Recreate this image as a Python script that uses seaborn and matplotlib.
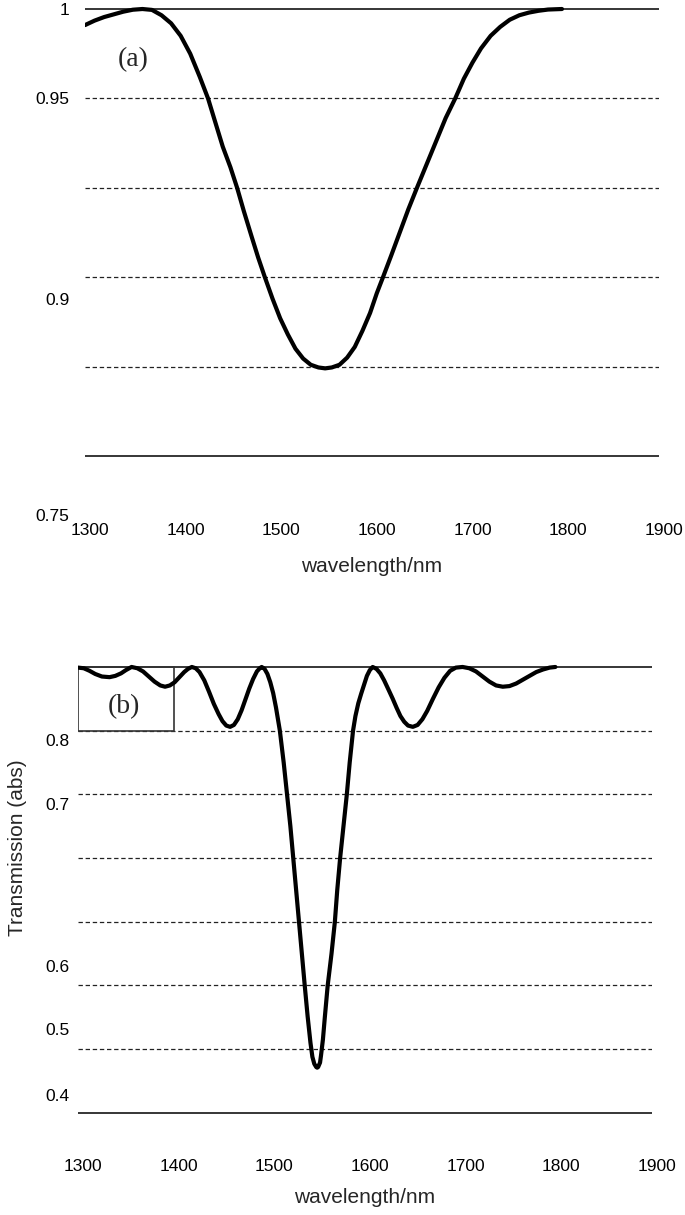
import matplotlib
matplotlib.use("Agg")
import matplotlib.pyplot as plt
from matplotlib.patches import Rectangle
from matplotlib.transforms import ScaledTranslation
import pandas as pd
import seaborn as sns

# curve (a): weak dip
wl_a = [1300, 1310, 1320, 1330, 1340, 1350, 1360, 1370, 1380, 1390, 1400, 1410,
        1420, 1428.6, 1436, 1444, 1452, 1459, 1466, 1474, 1481, 1488, 1496, 1504,
        1512, 1520, 1528, 1536, 1544, 1551, 1558, 1566, 1574, 1582, 1590, 1598,
        1605, 1611.5, 1620, 1629, 1638, 1647, 1657, 1667, 1677, 1687, 1696, 1705,
        1714, 1724, 1734, 1744, 1754, 1764, 1774, 1784, 1798.6]
tr_a = [0.991, 0.9935, 0.9955, 0.997, 0.9985, 0.9996, 1.0, 0.9995, 0.9965, 0.992, 0.985, 0.975,
        0.962, 0.950, 0.937, 0.923, 0.9115, 0.900, 0.887, 0.873, 0.861, 0.850, 0.838, 0.827,
        0.818, 0.810, 0.8045, 0.801, 0.7995, 0.799, 0.7995, 0.801, 0.805, 0.811, 0.820, 0.830,
        0.841, 0.850, 0.862, 0.875, 0.888, 0.900, 0.913, 0.926, 0.939, 0.950, 0.961, 0.970,
        0.978, 0.985, 0.990, 0.994, 0.9965, 0.998, 0.999, 0.9997, 1.0]

# curve (b): deep dip with side lobes
wl_b = [1300, 1306, 1312, 1318, 1325, 1333, 1339, 1345, 1350, 1356,
        1362, 1368, 1374, 1380, 1386, 1391, 1396, 1401, 1406, 1411, 1415, 1419,
        1423, 1427, 1432, 1437, 1442, 1447, 1451, 1455, 1459, 1463, 1467, 1471,
        1475, 1479, 1483, 1487, 1490, 1492,
        1495, 1498, 1501, 1504, 1507, 1509, 1511, 1515, 1518.5, 1522, 1525, 1528,
        1531, 1534, 1537, 1540, 1543, 1545, 1547, 1549, 1550, 1551, 1553, 1554,
        1556, 1558, 1561, 1565, 1568.5, 1571, 1574, 1577.5, 1581, 1584, 1587.5,
        1590, 1593, 1596, 1599, 1602, 1605, 1608,
        1612, 1616, 1620, 1625, 1629, 1633, 1637, 1641, 1645, 1650, 1655, 1660,
        1665, 1671, 1677, 1683, 1689, 1695, 1702,
        1709, 1716, 1723, 1730, 1737, 1744, 1751, 1758, 1765, 1772, 1779, 1786,
        1793, 1799]
tr_b = [0.899, 0.898, 0.894, 0.889, 0.885, 0.884, 0.886, 0.890, 0.895, 0.900,
        0.898, 0.893, 0.885, 0.877, 0.871, 0.869, 0.871, 0.876, 0.884, 0.892, 0.897, 0.900,
        0.898, 0.892, 0.879, 0.861, 0.842, 0.826, 0.815, 0.808, 0.806, 0.809, 0.818, 0.832,
        0.849, 0.866, 0.881, 0.893, 0.898, 0.900,
        0.897, 0.889, 0.876, 0.859, 0.836, 0.818, 0.800, 0.750, 0.700, 0.650, 0.600, 0.550,
        0.500, 0.450, 0.400, 0.352, 0.310, 0.288, 0.277, 0.272, 0.271, 0.272, 0.279, 0.290,
        0.315, 0.350, 0.400, 0.450, 0.500, 0.550, 0.600, 0.650, 0.700, 0.750, 0.800,
        0.823, 0.843, 0.858, 0.872, 0.886, 0.895, 0.900,
        0.897, 0.890, 0.879, 0.863, 0.850, 0.836, 0.823, 0.814, 0.808, 0.806, 0.809, 0.818,
        0.831, 0.850, 0.868, 0.883, 0.894, 0.899, 0.900,
        0.898, 0.893, 0.885, 0.877, 0.871, 0.869, 0.870, 0.874, 0.880, 0.886, 0.892, 0.896,
        0.899, 0.900]

x_ticks = [1300, 1400, 1500, 1600, 1700, 1800, 1900]

# horizontal rules (solid = outer, dashed = inner)
grid_a_solid = [1.0, 0.75]
grid_a_dash = [0.95, 0.90, 0.85, 0.80]
grid_b_solid = [0.9, 0.2]
grid_b_dash = [0.8, 0.7, 0.6, 0.5, 0.4, 0.3]

# tick labels sit where the picture shows them, not on the rules
ytick_a_pos = [1.0, 0.95, 0.838, 0.717]
ytick_a_lab = ["1", "0.95", "0.9", "0.75"]
ytick_b_pos = [0.7854, 0.685, 0.430, 0.332, 0.228]
ytick_b_lab = ["0.8", "0.7", "0.6", "0.5", "0.4"]

df_a = pd.DataFrame({"wavelength": wl_a, "T": tr_a})
df_b = pd.DataFrame({"wavelength": wl_b, "T": tr_b})

sns.set_theme(style="white")
plt.rcParams['font.family'] = ['Liberation Sans', 'DejaVu Sans']

fig = plt.figure(figsize=(6.85, 12.15), dpi=100)
W, H = 685, 1215

def px_axes(left, right, top, bottom):
    return fig.add_axes([left / W, 1 - bottom / H, (right - left) / W, (bottom - top) / H])

ax1 = px_axes(85, 659, 4, 518)
ax2 = px_axes(78, 652, 662, 1154)

dash = (0, (3.5, 2.2))
# x tick labels sit a few pixels right of the tick positions in the original
shift = ScaledTranslation(5 / 100, 0, fig.dpi_scale_trans)

for ax, solids, dashes in [(ax1, grid_a_solid, grid_a_dash), (ax2, grid_b_solid, grid_b_dash)]:
    for y in solids:
        ax.axhline(y, color="black", lw=1.1, zorder=1)
    for y in dashes:
        ax.axhline(y, color="#222222", lw=0.9, ls=dash, zorder=1)
    for s in ax.spines.values():
        s.set_visible(False)
    ax.set_xlim(1300, 1900)
    ax.set_xticks(x_ticks)
    ax.tick_params(axis="both", length=0, labelsize=12.5, colors="black")
    for lab in ax.get_xticklabels():
        lab.set_transform(lab.get_transform() + shift)

line_kw = dict(color="black", lw=3.0, zorder=3, solid_joinstyle="round", solid_capstyle="round")

# plot (a)
sns.lineplot(data=df_a, x="wavelength", y="T", ax=ax1, **line_kw)
ax1.set_ylim(0.7153, 1.0028)
ax1.set_yticks(ytick_a_pos, labels=ytick_a_lab)
ax1.tick_params(axis="y", pad=11)
ax1.set_xlabel("wavelength/nm", fontsize=15, labelpad=14)
ax1.set_ylabel("")
ax1.text(1350, 0.9715, "(a)", family="Liberation Serif", fontsize=20, ha="center", va="center")

# plot (b)
sns.lineplot(data=df_b, x="wavelength", y="T", ax=ax2, **line_kw)
ax2.set_ylim(0.1355, 0.9078)
ax2.set_yticks(ytick_b_pos, labels=ytick_b_lab)
ax2.tick_params(axis="y", pad=6)
ax2.set_xlabel("wavelength/nm", fontsize=15, labelpad=10)
ax2.set_ylabel("Transmission (abs)", fontsize=15)
ax2.yaxis.set_label_coords(-0.089, 0.622)
ax2.add_patch(Rectangle((1300, 0.8), 100, 0.1, fill=False, ec="#333333", lw=1.2, zorder=2))
ax2.text(1348, 0.837, "(b)", family="Liberation Serif", fontsize=20, ha="center", va="center")

fig.savefig("out.png", dpi=100)
